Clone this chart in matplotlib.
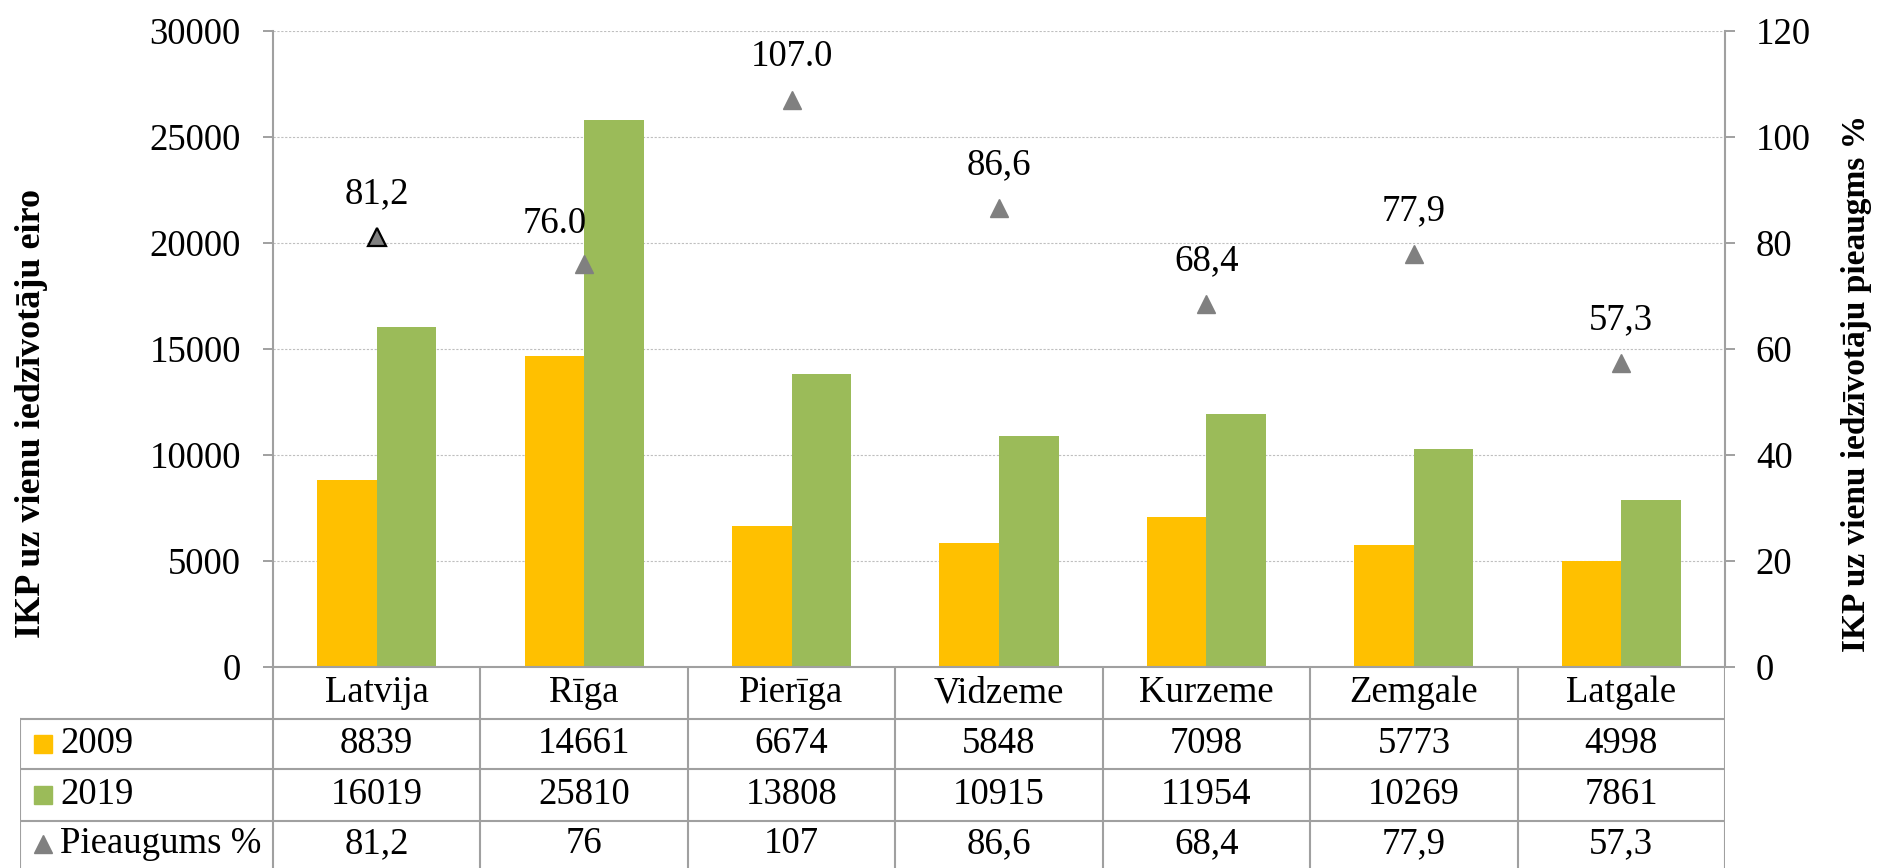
import matplotlib.pyplot as plt
import numpy as np

plt.rcParams["font.family"] = ["Liberation Serif", "DejaVu Serif"]

regions = ["Latvija", "Rīga", "Pierīga", "Vidzeme", "Kurzeme", "Zemgale", "Latgale"]
gdp_2009 = [8839, 14661, 6674, 5848, 7098, 5773, 4998]
gdp_2019 = [16019, 25810, 13808, 10915, 11954, 10269, 7861]
growth = [81.2, 76.0, 107.0, 86.6, 68.4, 77.9, 57.3]
growth_labels = ["81,2", "76.0", "107.0", "86,6", "68,4", "77,9", "57,3"]
growth_table = ["81,2", "76", "107", "86,6", "68,4", "77,9", "57,3"]
row_names = ["2009", "2019", "Pieaugums %"]

c_2009 = "#FFC000"
c_2019 = "#9BBB59"
c_tri = "#808080"
c_line = "#A0A0A0"
fs = 26.5

W, H = 1878, 868
fig = plt.figure(figsize=(W / 100, H / 100), dpi=100)

# pixel layout
px_left, px_right, px_top, px_zero = 273, 1725, 31, 667
px_tab_left = 20

ax = fig.add_axes([px_left / W, (H - px_zero) / H,
                   (px_right - px_left) / W, (px_zero - px_top) / H])
x = np.arange(len(regions))
w = 0.287
ax.bar(x - w / 2, gdp_2009, w, color=c_2009, zorder=2)
ax.bar(x + w / 2, gdp_2019, w, color=c_2019, zorder=2)
ax.set_xlim(-0.5, len(regions) - 0.5)
ax.set_ylim(0, 30000)
ax.set_yticks(np.arange(0, 30001, 5000))
ax.set_xticks([])
ax.grid(axis="y", color="#BFBFBF", linestyle=(0, (2, 1.5)), lw=0.8, zorder=0)
ax.tick_params(axis="y", direction="out", length=7.2, width=1.4, color=c_line,
               labelsize=fs, pad=16)
for s in ["top", "right"]:
    ax.spines[s].set_visible(False)
for s in ["left", "bottom"]:
    ax.spines[s].set_color(c_line)
    ax.spines[s].set_linewidth(1.5)

ax2 = ax.twinx()
ax2.set_ylim(0, 120)
ax2.set_yticks(np.arange(0, 121, 20))
ax2.tick_params(axis="y", direction="out", length=7.2, width=1.4, color=c_line,
                labelsize=fs, pad=15)
for s in ["top", "left", "bottom"]:
    ax2.spines[s].set_visible(False)
ax2.spines["right"].set_color(c_line)
ax2.spines["right"].set_linewidth(1.5)

ax2.plot(x[1:], growth[1:], "^", color=c_tri, ms=13.5, mec=c_tri, zorder=3)
ax2.plot(x[:1], growth[:1], "^", color=c_tri, ms=13, mec="black", mew=1.6, zorder=3)
for i, (v, lab) in enumerate(zip(growth, growth_labels)):
    if i == 1:
        ax2.annotate(lab, (x[i], v), xytext=(2, 29), textcoords="offset points",
                     ha="right", va="center", fontsize=fs)
    else:
        ax2.annotate(lab, (x[i], v), xytext=(0, 31), textcoords="offset points",
                     ha="center", va="center", fontsize=fs)

# data table below the plot
cat_px = (px_right - px_left) / len(regions)
lab_w = (px_left - px_tab_left) / cat_px
tab = fig.add_axes([px_tab_left / W, 0, (px_right - px_tab_left) / W, (H - px_zero) / H])
tab.set_xlim(-0.5 - lab_w, len(regions) - 0.5)
tab.set_ylim(0, H - px_zero)
tab.axis("off")

top = H - px_zero
rows_y = [H - 719, H - 769, H - 821]
centers = [(top + rows_y[0]) / 2, (rows_y[0] + rows_y[1]) / 2,
           (rows_y[1] + rows_y[2]) / 2, 24]
x_left = -0.5 - lab_w
for yy in rows_y:
    tab.plot([x_left, len(regions) - 0.5], [yy, yy], color=c_line, lw=1.5)
tab.plot([x_left, x_left], [0, rows_y[0]], color=c_line, lw=1.5)
for k in range(len(regions) + 1):
    tab.plot([k - 0.5, k - 0.5], [0, top], color=c_line, lw=1.5)

for k, name in enumerate(regions):
    tab.text(k, centers[0], name, ha="center", va="center", fontsize=fs)
    tab.text(k, centers[1], str(gdp_2009[k]), ha="center", va="center", fontsize=fs)
    tab.text(k, centers[2], str(gdp_2019[k]), ha="center", va="center", fontsize=fs)
    tab.text(k, centers[3], growth_table[k], ha="center", va="center", fontsize=fs)

key_x = x_left + (43 - px_tab_left) / cat_px
text_x = x_left + (60 - px_tab_left) / cat_px
tab.plot([key_x], [centers[1]], "s", color=c_2009, ms=13)
tab.plot([key_x], [centers[2]], "s", color=c_2019, ms=13)
tab.plot([key_x], [centers[3]], "^", color=c_tri, ms=13.5)
for r, name in enumerate(row_names):
    tab.text(text_x, centers[r + 1], name, ha="left", va="center", fontsize=fs)

fig.text(32 / W, 1 - 413 / H, "IKP uz vienu iedzīvotāju eiro", rotation=90,
         ha="center", va="center", fontsize=26, fontweight="bold")
fig.text(1856 / W, 1 - 383 / H, "IKP uz vienu iedzīvotāju pieaugms %", rotation=90,
         ha="center", va="center", fontsize=24, fontweight="bold")

fig.savefig("out.png", dpi=100)
